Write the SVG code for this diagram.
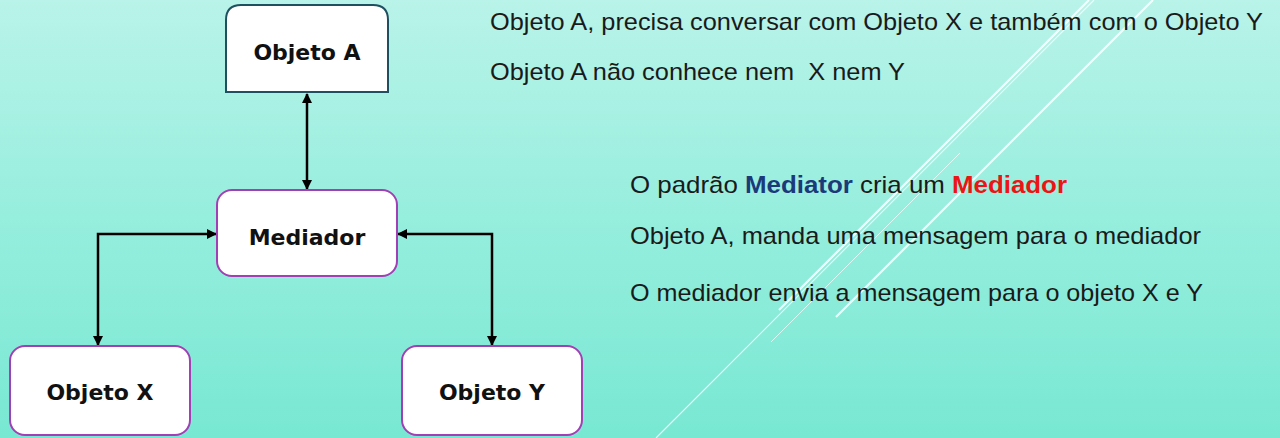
<svg xmlns="http://www.w3.org/2000/svg" width="1280" height="438" viewBox="0 0 1280 438">
<defs>
<linearGradient id="bg" x1="0" y1="0" x2="0" y2="1">
<stop offset="0" stop-color="#b9f3e9"/>
<stop offset="0.5" stop-color="#96eedd"/>
<stop offset="1" stop-color="#78e8d3"/>
</linearGradient>
<marker id="ah" viewBox="0 0 10 10" refX="9" refY="5" markerWidth="4" markerHeight="4" orient="auto-start-reverse" markerUnits="strokeWidth">
<path d="M0,0 L10,5 L0,10 z" fill="#000"/>
</marker>
<style>
.node{fill:#fff;stroke-width:2}
.purple{stroke:#a23fb4}
.nlabel{font-family:"DejaVu Sans",sans-serif;font-weight:bold;font-size:22px;fill:#111;text-anchor:middle}
.conn{fill:none;stroke:#000;stroke-width:2.5;marker-start:url(#ah);marker-end:url(#ah)}
.txt{font-family:"Liberation Sans",Arial,sans-serif;font-size:24px;fill:#1a1a1a}
.deco{stroke:#fff;fill:none}
</style>
</defs>
<rect x="0" y="0" width="1280" height="438" fill="url(#bg)"/>
<g id="decoration">
<line class="deco" x1="656" y1="438" x2="1094" y2="0" stroke-width="1.2" opacity="0.8"/>
<line class="deco" x1="779" y1="310" x2="1089" y2="0" stroke-width="2.2" opacity="0.85"/>
<line class="deco" x1="836" y1="317" x2="1153" y2="0" stroke-width="2.2" opacity="0.85"/>
<line class="deco" x1="771" y1="342" x2="960" y2="153" stroke-width="1" opacity="0.7"/>
<line class="deco" x1="800" y1="290" x2="1075" y2="15" stroke-width="1" opacity="0.5"/>
</g>
<g id="connectors">
<line class="conn" x1="307" y1="94" x2="307" y2="189"/>
<polyline class="conn" points="216,234 98,234 98,345"/>
<polyline class="conn" points="398,234 492,234 492,345"/>
</g>
<g id="objetoA">
<path class="node" stroke="#1f5060" d="M226,92 L226,20 Q226,5 241,5 L373,5 Q388,5 388,20 L388,92 Z"/>
<text class="nlabel" x="307" y="60">Objeto A</text>
</g>
<g id="mediador">
<rect class="node purple" x="217" y="190" width="180" height="86" rx="15"/>
<text class="nlabel" x="307" y="245">Mediador</text>
</g>
<g id="objetoX">
<rect class="node purple" x="10" y="346" width="180" height="89" rx="15"/>
<text class="nlabel" x="100" y="400">Objeto X</text>
</g>
<g id="objetoY">
<rect class="node purple" x="402" y="346" width="180" height="89" rx="15"/>
<text class="nlabel" x="492" y="400">Objeto Y</text>
</g>
<g id="texts">
<text class="txt" x="490" y="30" textLength="773" lengthAdjust="spacingAndGlyphs">Objeto A, precisa conversar com Objeto X e também com o Objeto Y</text>
<text class="txt" x="490" y="80" textLength="415" lengthAdjust="spacingAndGlyphs" xml:space="preserve">Objeto A não conhece nem  X nem Y</text>
<text class="txt" x="630" y="193" textLength="437" lengthAdjust="spacingAndGlyphs">O padrão <tspan font-weight="bold" fill="#1b3a7a">Mediator</tspan> cria um <tspan font-weight="bold" fill="#ec1414">Mediador</tspan></text>
<text class="txt" x="630" y="244" textLength="571" lengthAdjust="spacingAndGlyphs">Objeto A, manda uma mensagem para o mediador</text>
<text class="txt" x="630" y="301" textLength="573" lengthAdjust="spacingAndGlyphs">O mediador envia a mensagem para o objeto X e Y</text>
</g>
</svg>
